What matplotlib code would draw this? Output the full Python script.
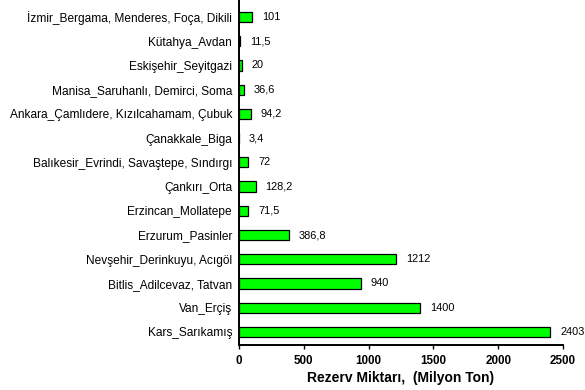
import matplotlib
matplotlib.use("Agg")
import matplotlib.pyplot as plt

plt.rcParams["font.family"] = ["Liberation Sans", "DejaVu Sans"]

# Reserve by locality, top to bottom
locations = [
    "İzmir_Bergama, Menderes, Foça, Dikili",
    "Kütahya_Avdan",
    "Eskişehir_Seyitgazi",
    "Manisa_Saruhanlı, Demirci, Soma",
    "Ankara_Çamlıdere, Kızılcahamam, Çubuk",
    "Çanakkale_Biga",
    "Balıkesir_Evrindi, Savaştepe, Sındırgı",
    "Çankırı_Orta",
    "Erzincan_Mollatepe",
    "Erzurum_Pasinler",
    "Nevşehir_Derinkuyu, Acıgöl",
    "Bitlis_Adilcevaz, Tatvan",
    "Van_Erçiş",
    "Kars_Sarıkamış",
]
reserves = [101, 11.5, 20, 36.6, 94.2, 3.4, 72, 128.2, 71.5, 386.8, 1212, 940, 1400, 2403]
xticks = [0, 500, 1000, 1500, 2000, 2500]

fig = plt.figure(figsize=(5.85, 3.9), dpi=100)
ax = fig.add_axes([0.4085, 0.1154, 0.554, 0.8846])

n = len(locations)
ypos = [n - 1 - i for i in range(n)]
ax.barh(ypos, reserves, height=0.42, color="#00ff00", edgecolor="black", linewidth=0.9)

for y, v in zip(ypos, reserves):
    txt = f"{v:g}".replace(".", ",")
    ax.annotate(txt, (v, y), xytext=(7, 0), textcoords="offset points",
                va="center", ha="left", fontsize=7.9)

ax.set_yticks(ypos)
ax.set_yticklabels(locations, fontsize=8.6)
ax.tick_params(axis="y", length=0, pad=5)
ax.set_xticks(xticks)
ax.set_xticklabels([str(t) for t in xticks], fontsize=8.4, fontweight="bold")
ax.tick_params(axis="x", direction="out", length=3, width=1, pad=4)
ax.set_xlim(0, 2500)
ax.set_ylim(-0.54, n - 0.3)
ax.set_xlabel("Rezerv Miktarı,  (Milyon Ton)", fontsize=10, fontweight="bold", labelpad=3)

for side in ("top", "right"):
    ax.spines[side].set_visible(False)
ax.spines["left"].set_linewidth(1.4)
ax.spines["bottom"].set_linewidth(1.4)

fig.savefig("out.png", dpi=100)
